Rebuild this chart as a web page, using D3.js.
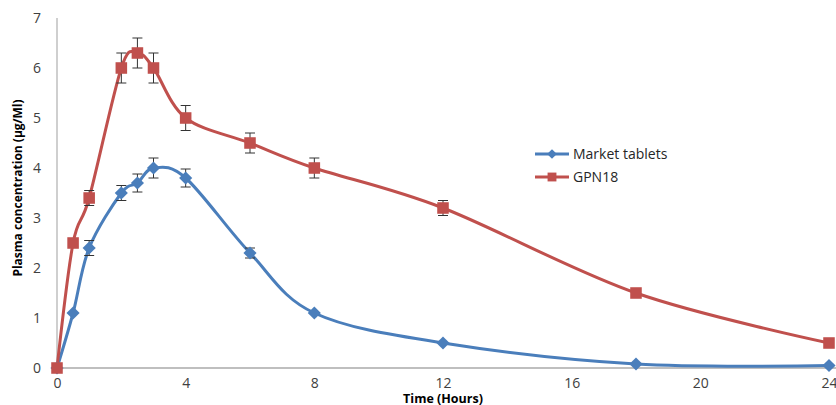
<!DOCTYPE html>
<html>
<head>
  <script src="https://d3js.org/d3.v7.min.js"></script>
  <style>
    body { margin: 0; background: #fff; }
    text { font-family: "Open Sans", "Liberation Sans", sans-serif; }
  </style>
</head>
<body>
  <div id="chart"></div>
  <script>
    const times = [0, 0.5, 1, 2, 2.5, 3, 4, 6, 8, 12, 18, 24];
    const marketVals = [0, 1.1, 2.4, 3.5, 3.7, 4.0, 3.8, 2.3, 1.1, 0.5, 0.08, 0.05];
    const marketErr = [0, 0, 0.15, 0.15, 0.18, 0.2, 0.18, 0.1, 0, 0, 0, 0];
    const gpnVals = [0, 2.5, 3.4, 6.0, 6.3, 6.0, 5.0, 4.5, 4.0, 3.2, 1.5, 0.5];
    const gpnErr = [0, 0.08, 0.15, 0.3, 0.3, 0.3, 0.25, 0.2, 0.2, 0.15, 0, 0];
    const xTicks = [0, 4, 8, 12, 16, 20, 24];
    const yTicks = [0, 1, 2, 3, 4, 5, 6, 7];

    const series = [
      { name: "Market tablets", vals: marketVals, err: marketErr, color: "#4A7EBB", marker: "diamond" },
      { name: "GPN18", vals: gpnVals, err: gpnErr, color: "#C0504D", marker: "square" }
    ];

    const W = 836, H = 405;
    const svg = d3.select("#chart").append("svg")
      .attr("width", W).attr("height", H);

    const x = d3.scaleLinear().domain([0, 24]).range([57, 829]);
    const y = d3.scaleLinear().domain([0, 7]).range([368, 18]);

    // axes lines
    svg.append("line")
      .attr("x1", x(0)).attr("x2", x(0))
      .attr("y1", y(7)).attr("y2", y(0))
      .attr("stroke", "#bfbfbf").attr("stroke-width", 1.5);
    svg.append("line")
      .attr("x1", x(0)).attr("x2", W)
      .attr("y1", y(0)).attr("y2", y(0))
      .attr("stroke", "#bfbfbf").attr("stroke-width", 2);

    const yAxis = d3.axisLeft(y).tickValues(yTicks).tickFormat(d3.format("d")).tickSize(0).tickPadding(16);
    const gy = svg.append("g").attr("transform", `translate(${x(0)},0)`).call(yAxis);
    gy.select(".domain").remove();
    gy.selectAll("text").attr("font-size", 14).attr("fill", "#404040")
      .style("font-family", "Open Sans, sans-serif");

    const xAxis = d3.axisBottom(x).tickValues(xTicks).tickFormat(d3.format("d")).tickSize(0).tickPadding(10);
    const gx = svg.append("g").attr("transform", `translate(0,${y(0)})`).call(xAxis);
    gx.select(".domain").remove();
    gx.selectAll("text").attr("font-size", 14).attr("fill", "#404040")
      .style("font-family", "Open Sans, sans-serif");

    // titles
    svg.append("text")
      .attr("x", x(12)).attr("y", 403)
      .attr("text-anchor", "middle")
      .attr("font-size", 12.5).attr("font-weight", "bold").attr("fill", "#000")
      .text("Time (Hours)");
    svg.append("text")
      .attr("transform", `translate(22,${y(3.6)}) rotate(-90)`)
      .attr("text-anchor", "middle")
      .attr("font-size", 12).attr("font-weight", "bold").attr("fill", "#000")
      .text("Plasma concentration (µg/Ml)");

    const line = d3.line()
      .x((d, i) => x(times[i]))
      .y(d => y(d))
      .curve(d3.curveCatmullRom.alpha(0));

    const diamond = d3.symbol().type(d3.symbolDiamond2).size(110);
    const square = d3.symbol().type(d3.symbolSquare2).size(170);

    series.forEach(s => {
      svg.append("path")
        .datum(s.vals)
        .attr("fill", "none")
        .attr("stroke", s.color)
        .attr("stroke-width", 3)
        .attr("d", line);
    });

    // error bars
    series.forEach(s => {
      const g = svg.append("g").attr("stroke", "#333").attr("stroke-width", 1);
      s.vals.forEach((v, i) => {
        const e = s.err[i];
        if (!e) return;
        const cx = x(times[i]);
        g.append("line").attr("x1", cx).attr("x2", cx).attr("y1", y(v - e)).attr("y2", y(v + e));
        g.append("line").attr("x1", cx - 5).attr("x2", cx + 5).attr("y1", y(v - e)).attr("y2", y(v - e));
        g.append("line").attr("x1", cx - 5).attr("x2", cx + 5).attr("y1", y(v + e)).attr("y2", y(v + e));
      });
    });

    // markers
    series.forEach(s => {
      svg.append("g").selectAll("path")
        .data(s.vals)
        .join("path")
        .attr("transform", (d, i) => `translate(${x(times[i])},${y(d)})`)
        .attr("d", s.marker === "diamond" ? diamond : square)
        .attr("fill", s.color);
    });

    // legend
    const leg = svg.append("g");
    series.forEach((s, i) => {
      const ly = 154 + i * 23;
      leg.append("line")
        .attr("x1", 535).attr("x2", 569).attr("y1", ly).attr("y2", ly)
        .attr("stroke", s.color).attr("stroke-width", 3);
      leg.append("path")
        .attr("transform", `translate(552,${ly})`)
        .attr("d", s.marker === "diamond"
          ? d3.symbol().type(d3.symbolDiamond2).size(60)()
          : d3.symbol().type(d3.symbolSquare2).size(100)())
        .attr("fill", s.color);
      leg.append("text")
        .attr("x", 573).attr("y", ly + 5)
        .attr("font-size", 14).attr("fill", "#262626")
        .text(s.name);
    });
  </script>
</body>
</html>
